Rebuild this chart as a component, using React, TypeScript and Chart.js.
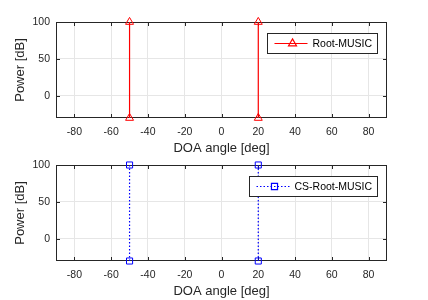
import React, { useEffect, useRef } from 'react';
import { Chart, registerables } from 'chart.js';

Chart.register(...registerables);

// Axis ticks and limits
const xTickValues = [-80, -60, -40, -20, 0, 20, 40, 60, 80];
const yTickValues = [0, 50, 100];
const xMin = -90;
const xMax = 90;
const yMin = -30;
const yMax = 100;

// Root-MUSIC estimates (stems)
const rootMusicDoa = [-50, 20];
const rootMusicPeakDb = [100, 100];
const rootMusicFloorDb = [-30, -30];

// CS-Root-MUSIC estimates (stems)
const csRootMusicDoa = [-50, 20];
const csRootMusicPeakDb = [100, 100];
const csRootMusicFloorDb = [-30, -30];

const FONT = '"Liberation Sans", Arial, Helvetica, sans-serif';
const AXIS_COLOR = '#262626';
const GRID_COLOR = '#e6e6e6';

function buildStems(doa: number[], peak: number[], floor: number[]) {
  const pts: { x: number; y: number | null }[] = [];
  doa.forEach((a, i) => {
    pts.push({ x: a, y: floor[i] }, { x: a, y: peak[i] }, { x: a, y: null });
  });
  return pts;
}

function drawMarker(ctx: CanvasRenderingContext2D, style: string, x: number, y: number, r: number) {
  ctx.beginPath();
  if (style === 'triangle') {
    let rad = 0;
    ctx.moveTo(x + Math.sin(rad) * r, y - Math.cos(rad) * r);
    rad += (2 * Math.PI) / 3;
    ctx.lineTo(x + Math.sin(rad) * r, y - Math.cos(rad) * r);
    rad += (2 * Math.PI) / 3;
    ctx.lineTo(x + Math.sin(rad) * r, y - Math.cos(rad) * r);
    ctx.closePath();
  } else {
    const s = Math.SQRT1_2 * r;
    ctx.rect(x - s, y - s, 2 * s, 2 * s);
  }
  ctx.stroke();
}

const axesPlugin = {
  id: 'matlabAxes',
  beforeDatasetsDraw(chart: any) {
    const { ctx, chartArea, scales } = chart;
    const L = Math.round(chartArea.left) + 0.5;
    const R = Math.round(chartArea.right) - 0.5;
    const T = Math.round(chartArea.top) + 0.5;
    const B = Math.round(chartArea.bottom) - 0.5;
    ctx.save();
    ctx.strokeStyle = AXIS_COLOR;
    ctx.lineWidth = 1;
    ctx.setLineDash([]);
    ctx.strokeRect(L, T, R - L, B - T);
    const tl = 3.5;
    ctx.beginPath();
    xTickValues.forEach((v) => {
      const px = Math.round(scales.x.getPixelForValue(v)) + 0.5;
      ctx.moveTo(px, B);
      ctx.lineTo(px, B - tl);
      ctx.moveTo(px, T);
      ctx.lineTo(px, T + tl);
    });
    yTickValues.forEach((v) => {
      const py = Math.round(scales.y.getPixelForValue(v)) + 0.5;
      ctx.moveTo(L, py);
      ctx.lineTo(L + tl, py);
      ctx.moveTo(R, py);
      ctx.lineTo(R - tl, py);
    });
    ctx.stroke();
    ctx.restore();
  },
};

const legendPlugin = {
  id: 'insideLegend',
  afterDraw(chart: any) {
    const { ctx, chartArea } = chart;
    const ds = chart.data.datasets[0];
    ctx.save();
    ctx.font = `10.5px ${FONT}`;
    const textW = ctx.measureText(ds.label).width;
    const right = Math.round(chartArea.right - 10) + 0.5;
    const top = Math.round(chartArea.top + 10.5) + 0.5;
    const h = 20;
    const left = Math.round(right - (textW + 51)) + 0.5;
    ctx.fillStyle = '#ffffff';
    ctx.fillRect(left, top, right - left, h);
    ctx.strokeStyle = AXIS_COLOR;
    ctx.lineWidth = 1;
    ctx.strokeRect(left, top, right - left, h);
    const my = top + h / 2;
    ctx.strokeStyle = ds.borderColor;
    ctx.lineWidth = ds.borderWidth;
    ctx.setLineDash(ds.borderDash || []);
    ctx.beginPath();
    ctx.moveTo(left + 7, my);
    ctx.lineTo(left + 40, my);
    ctx.stroke();
    ctx.setLineDash([]);
    drawMarker(ctx, ds.pointStyle, left + 25, my, ds.pointRadius);
    ctx.fillStyle = '#000000';
    ctx.textAlign = 'left';
    ctx.textBaseline = 'middle';
    ctx.fillText(ds.label, left + 45, my + 0.5);
    ctx.restore();
  },
};

function makeConfig(
  label: string,
  data: { x: number; y: number | null }[],
  color: string,
  dash: number[],
  pointStyle: string,
  radius: number
): any {
  return {
    type: 'line',
    data: {
      datasets: [
        {
          label,
          data,
          borderColor: color,
          borderWidth: 1.2,
          borderDash: dash,
          pointStyle,
          pointRadius: radius,
          pointHoverRadius: radius,
          pointBorderColor: color,
          pointBackgroundColor: 'rgba(0,0,0,0)',
          pointBorderWidth: 1,
          spanGaps: false,
          clip: false,
          tension: 0,
        },
      ],
    },
    options: {
      responsive: false,
      animation: false,
      devicePixelRatio: 1,
      events: [],
      layout: { padding: { top: 22, right: 41, bottom: 0, left: 0 } },
      plugins: { legend: { display: false }, tooltip: { enabled: false } },
      scales: {
        x: {
          type: 'linear',
          min: xMin,
          max: xMax,
          afterBuildTicks: (s: any) => {
            s.ticks = xTickValues.map((v) => ({ value: v }));
          },
          afterFit: (s: any) => {
            s.height = 39;
          },
          grid: { color: GRID_COLOR, drawTicks: false, lineWidth: 1 },
          border: { display: false },
          ticks: {
            color: AXIS_COLOR,
            font: { family: FONT, size: 10.5 },
            padding: 8,
            maxRotation: 0,
            autoSkip: false,
          },
          title: {
            display: true,
            text: 'DOA angle [deg]',
            color: AXIS_COLOR,
            font: { family: FONT, size: 13 },
            padding: { top: 0, bottom: 1 },
          },
        },
        y: {
          type: 'linear',
          min: yMin,
          max: yMax,
          afterBuildTicks: (s: any) => {
            s.ticks = yTickValues.map((v) => ({ value: v }));
          },
          afterFit: (s: any) => {
            s.width = 56;
          },
          grid: { color: GRID_COLOR, drawTicks: false, lineWidth: 1 },
          border: { display: false },
          ticks: {
            color: AXIS_COLOR,
            font: { family: FONT, size: 10.5 },
            padding: 6,
            autoSkip: false,
          },
          title: {
            display: true,
            text: 'Power [dB]',
            color: AXIS_COLOR,
            font: { family: FONT, size: 13 },
            padding: { top: 13, bottom: 0 },
          },
        },
      },
    },
    plugins: [axesPlugin, legendPlugin],
  };
}

function Panel({ top, build }: { top: number; build: () => any }) {
  const ref = useRef<HTMLCanvasElement | null>(null);
  useEffect(() => {
    if (!ref.current) return;
    const chart = new Chart(ref.current, build());
    return () => chart.destroy();
  }, []);
  return (
    <canvas
      ref={ref}
      width={428}
      height={157}
      style={{ position: 'absolute', left: 0, top, width: 428, height: 157 }}
    />
  );
}

export default function App() {
  return (
    <div style={{ position: 'absolute', left: 0, top: 0, width: 428, height: 300, background: '#ffffff' }}>
      <Panel
        top={0}
        build={() =>
          makeConfig(
            'Root-MUSIC',
            buildStems(rootMusicDoa, rootMusicPeakDb, rootMusicFloorDb),
            '#ff0000',
            [],
            'triangle',
            4.6
          )
        }
      />
      <Panel
        top={143}
        build={() =>
          makeConfig(
            'CS-Root-MUSIC',
            buildStems(csRootMusicDoa, csRootMusicPeakDb, csRootMusicFloorDb),
            '#0000ff',
            [1.5, 2],
            'rect',
            4.3
          )
        }
      />
    </div>
  );
}
